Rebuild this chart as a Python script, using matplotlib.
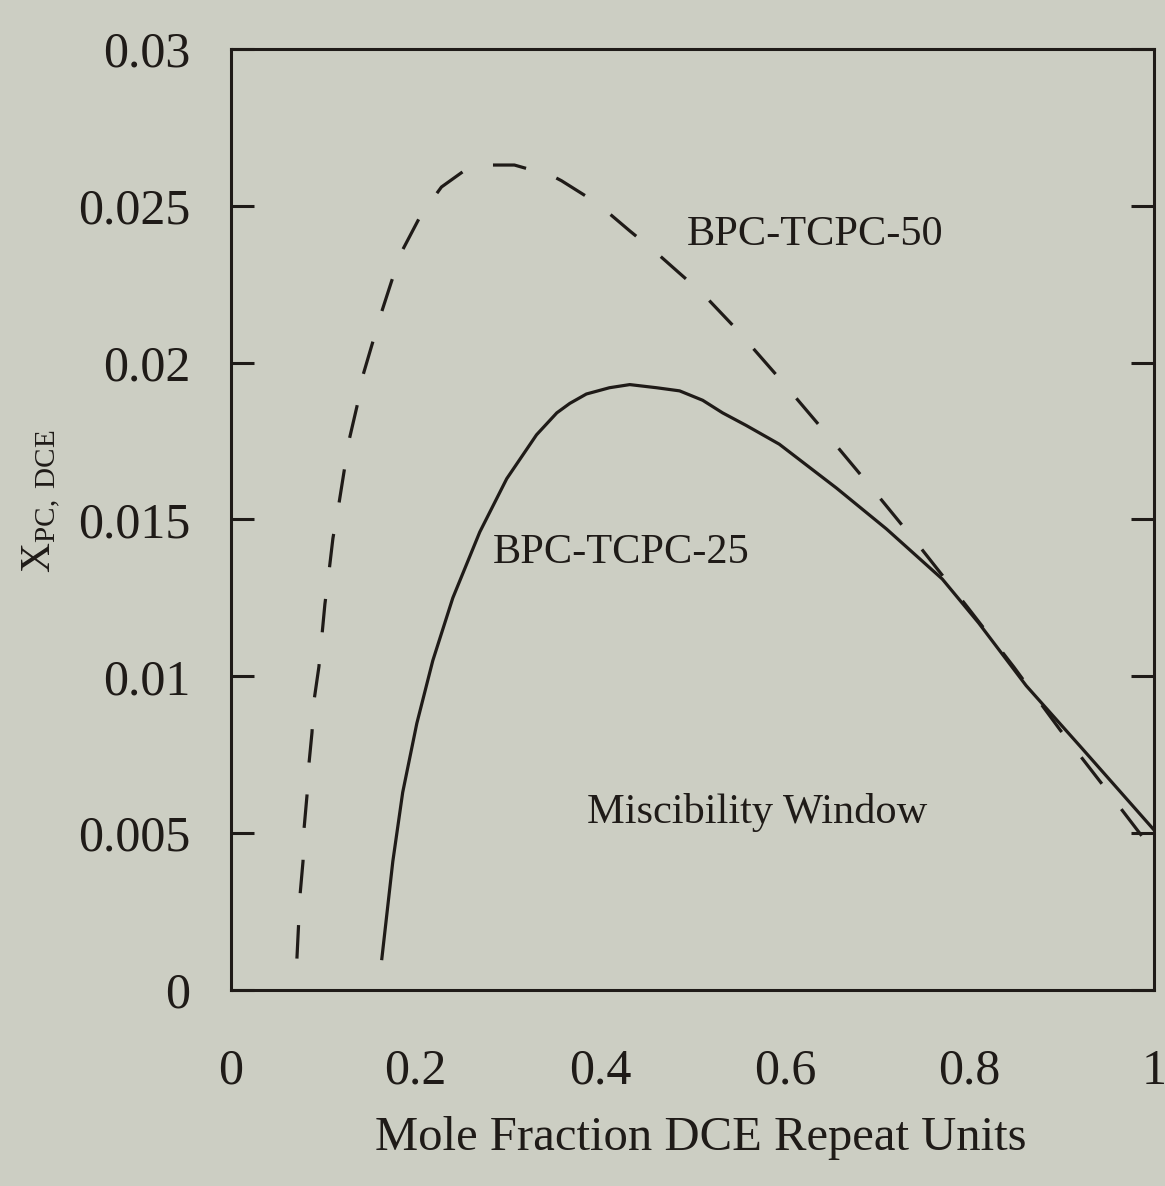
import matplotlib
matplotlib.use("Agg")
import matplotlib.pyplot as plt

# Flory-Huggins interaction parameter vs. copolymer composition
# BPC-TCPC-50 (dashed)
x_50 = [0.0714, 0.0747, 0.078, 0.079, 0.0823, 0.0844, 0.0877, 0.0898, 0.0952,
        0.0985, 0.1017, 0.106, 0.1104, 0.1169, 0.1223, 0.1277, 0.1364, 0.143,
        0.153, 0.163, 0.174, 0.186, 0.2056, 0.228, 0.2565, 0.2803, 0.307, 0.331,
        0.345, 0.358, 0.385, 0.408, 0.432, 0.461, 0.484, 0.511, 0.5465, 0.597,
        0.646, 0.697, 0.747, 0.798, 0.848, 0.898, 0.948, 1.0]
y_50 = [0.0010, 0.0030, 0.0041, 0.0051, 0.0062, 0.0072, 0.0082, 0.0092, 0.0103,
        0.0113, 0.0123, 0.0133, 0.0144, 0.0155, 0.0165, 0.0175, 0.0186, 0.0196,
        0.0206, 0.0216, 0.0226, 0.0236, 0.0247, 0.0256, 0.0262, 0.0263, 0.0263,
        0.0261, 0.0260, 0.0258, 0.0253, 0.0248, 0.0242, 0.0235, 0.0229, 0.0222,
        0.0211, 0.0194, 0.0177, 0.0159, 0.0141, 0.0122, 0.0103, 0.0083, 0.0064,
        0.0044]

# BPC-TCPC-25 (solid)
x_25 = [0.1634, 0.1753, 0.186, 0.2013, 0.2186, 0.2403, 0.2695, 0.2987, 0.331,
        0.353, 0.367, 0.385, 0.410, 0.432, 0.461, 0.486, 0.511, 0.5325, 0.558,
        0.594, 0.656, 0.710, 0.7706, 0.810, 0.8615, 0.922, 1.0]
y_25 = [0.0010, 0.0041, 0.0063, 0.0085, 0.0105, 0.0125, 0.0146, 0.0163, 0.0177,
        0.0184, 0.0187, 0.0190, 0.0192, 0.0193, 0.0192, 0.0191, 0.0188, 0.0184,
        0.0180, 0.0174, 0.0160, 0.0147, 0.0131, 0.0117, 0.0097, 0.0077, 0.0051]

x_ticks = [0, 0.2, 0.4, 0.6, 0.8, 1.0]
x_tick_labels = ["0", "0.2", "0.4", "0.6", "0.8", "1"]
y_ticks = [0, 0.005, 0.01, 0.015, 0.02, 0.025, 0.03]
y_tick_labels = ["0", "0.005", "0.01", "0.015", "0.02", "0.025", "0.03"]

bg = "#cccec3"
ink = "#1f1b18"

plt.rcParams["font.family"] = "Liberation Serif"
plt.rcParams["mathtext.fontset"] = "custom"
plt.rcParams["mathtext.rm"] = "Liberation Serif"
plt.rcParams["mathtext.it"] = "Liberation Serif:italic"

fig = plt.figure(figsize=(11.65, 11.86), dpi=100, facecolor=bg)
ax = fig.add_axes([0.1983, 0.1653, 0.7923, 0.7934], facecolor=bg)

ax.plot(x_50, y_50, color=ink, lw=2.3, dashes=(10.5, 10.0),
        dash_capstyle="butt", solid_joinstyle="round")
ax.plot(x_25, y_25, color=ink, lw=2.3, solid_joinstyle="round")

ax.set_xlim(0, 1.0)
ax.set_ylim(0, 0.03)

ax.set_xticks(x_ticks)
ax.set_xticklabels(x_tick_labels)
ax.set_yticks(y_ticks)
ax.set_yticklabels(y_tick_labels)

ax.tick_params(axis="x", length=0, pad=42, labelsize=36, colors=ink)
ax.tick_params(axis="y", direction="in", length=16.5, width=2.2, pad=29.5,
               labelsize=36, colors=ink, left=True, right=True)

for s in ax.spines.values():
    s.set_linewidth(2.2)
    s.set_color(ink)

ax.set_xlabel("Mole Fraction DCE Repeat Units", fontsize=35, color=ink)
ax.xaxis.set_label_coords(0.509, -0.134)
ax.set_ylabel(r"$\mathrm{X}_{\mathrm{PC,\ DCE}}$", fontsize=30, color=ink)
ax.yaxis.set_label_coords(-0.182, 0.519)

ax.text(0.494, 0.02375, "BPC-TCPC-50", fontsize=30.5, color=ink,
        ha="left", va="baseline")
ax.text(0.284, 0.01361, "BPC-TCPC-25", fontsize=30.5, color=ink,
        ha="left", va="baseline")
ax.text(0.3857, 0.00532, "Miscibility Window", fontsize=30.5, color=ink,
        ha="left", va="baseline")

fig.savefig("out.png", dpi=100, facecolor=bg)
